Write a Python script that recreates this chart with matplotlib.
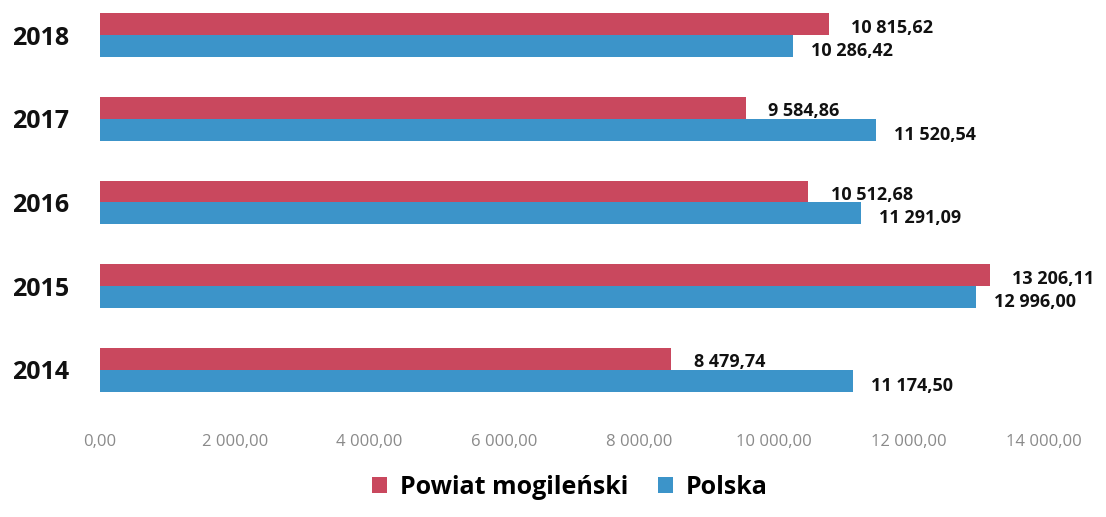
import numpy as np
import matplotlib.pyplot as plt

years = ["2014", "2015", "2016", "2017", "2018"]
powiat = [8479.74, 13206.11, 10512.68, 9584.86, 10815.62]
polska = [11174.50, 12996.00, 11291.09, 11520.54, 10286.42]
series_names = ["Powiat mogileński", "Polska"]
xticks = [0, 2000, 4000, 6000, 8000, 10000, 12000, 14000]

red = "#c9485e"
blue = "#3c94c9"


def fmt(v):
    # polski format: spacja tysięcy, przecinek dziesiętny
    s = f"{v:,.2f}"
    return s.replace(",", " ").replace(".", ",")


fig = plt.figure(figsize=(11.06, 5.17), dpi=100)
ax = fig.add_axes([0.0904, 0.1876, 0.853, 0.793])

y = np.arange(len(years))
h = 0.26
ax.barh(y + h / 2, powiat, height=h, color=red, label=series_names[0])
ax.barh(y - h / 2, polska, height=h, color=blue, label=series_names[1])

for yi, v in zip(y, powiat):
    ax.annotate(fmt(v), (v, yi + h / 2 - 0.04), xytext=(16, 0), textcoords="offset points",
                va="center", ha="left", fontsize=13, fontweight="bold", family="Open Sans", color="#111111")
for yi, v in zip(y, polska):
    ax.annotate(fmt(v), (v, yi - h / 2 - 0.06), xytext=(13, 0), textcoords="offset points",
                va="center", ha="left", fontsize=13, fontweight="bold", family="Open Sans", color="#111111")

ax.set_xlim(0, 14000)
ax.set_ylim(-0.6, 4.3)
ax.set_xticks(xticks)
ax.set_xticklabels([fmt(t) for t in xticks], family="Open Sans", fontsize=12, color="#8a8a8a")
ax.set_yticks(y)
ax.set_yticklabels(years, fontsize=18, fontweight="bold", family="Open Sans", color="#111111")
ax.tick_params(axis="both", length=0)
ax.tick_params(axis="y", pad=22)
ax.tick_params(axis="x", pad=10)
for s in ax.spines.values():
    s.set_visible(False)

leg = fig.legend(loc="lower center", bbox_to_anchor=(0.515, -0.01), ncol=2, frameon=False,
                 prop={"family": "Open Sans", "size": 18, "weight": "bold"},
                 handlelength=0.6, handleheight=0.6, handletextpad=0.5, columnspacing=1.2)

fig.savefig("out.png", dpi=100, facecolor="white")
